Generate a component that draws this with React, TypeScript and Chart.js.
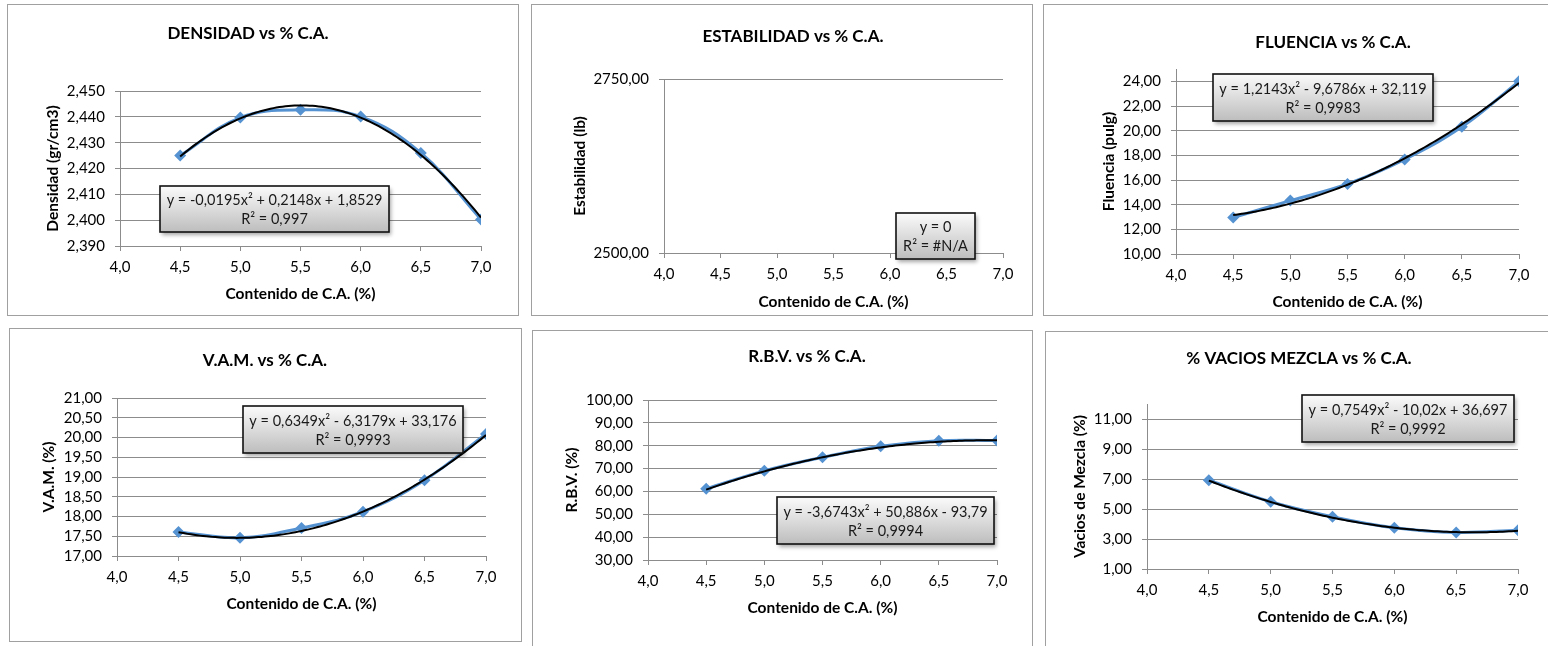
import React, { useEffect, useRef } from "react";
import { Chart, registerables } from "chart.js";

Chart.register(...registerables);

// ---------------- DATA ----------------
const contenidoCA = [4.5, 5.0, 5.5, 6.0, 6.5, 7.0];
const xTickValues = [4.0, 4.5, 5.0, 5.5, 6.0, 6.5, 7.0];

const densidad = [2.425, 2.4397, 2.4427, 2.4401, 2.426, 2.4003];
const estabilidad: number[] = [0, 0, 0, 0, 0, 0];
const fluencia = [12.96, 14.33, 15.68, 17.67, 20.31, 24.0];
const vam = [17.61, 17.46, 17.71, 18.12, 18.92, 20.09];
const rbv = [61.13, 69.0, 74.9, 79.8, 82.2, 82.3];
const vacios = [6.92, 5.48, 4.48, 3.75, 3.44, 3.59];

// polynomial trendline coefficients [a, b, c] for y = a x^2 + b x + c
const densidadTrend = [-0.0195, 0.2148, 1.8529];
const estabilidadTrend = [0, 0, 0];
const fluenciaTrend = [1.2143, -9.6786, 32.119];
const vamTrend = [0.6349, -6.3179, 33.176];
const rbvTrend = [-3.6743, 50.886, -93.79];
const vaciosTrend = [0.7549, -10.02, 36.697];

const densidadTicks = [2.39, 2.4, 2.41, 2.42, 2.43, 2.44, 2.45];
const estabilidadTicks = [2500, 2750];
const fluenciaTicks = [10, 12, 14, 16, 18, 20, 22, 24];
const vamTicks = [17, 17.5, 18, 18.5, 19, 19.5, 20, 20.5, 21];
const rbvTicks = [30, 40, 50, 60, 70, 80, 90, 100];
const vaciosTicks = [1, 3, 5, 7, 9, 11];

const densidadEq = ["y = -0,0195x² + 0,2148x + 1,8529", "R² = 0,997"];
const estabilidadEq = ["y = 0", "R² = #N/A"];
const fluenciaEq = ["y = 1,2143x² - 9,6786x + 32,119", "R² = 0,9983"];
const vamEq = ["y = 0,6349x² - 6,3179x + 33,176", "R² = 0,9993"];
const rbvEq = ["y = -3,6743x² + 50,886x - 93,79", "R² = 0,9994"];
const vaciosEq = ["y = 0,7549x² - 10,02x + 36,697", "R² = 0,9992"];

// ---------------- STYLE / LAYOUT ----------------
const FONT = "Lato, 'Open Sans', sans-serif";
const GRID = "#8C8C8C";
const BLUE = "#5592D1";

type Panel = {
  title: string;
  yLabel: string;
  xLabel: string;
  values: number[];
  trend: number[];
  yTicks: number[];
  yMin: number;
  yMax: number;
  dec: number;
  eq: string[];
  box: { l: number; t: number; r: number; b: number };
  plot: { x0: number; x1: number; yt: number; yb: number };
  titlePos: { x: number; y: number };
  yLabelX: number;
  xLabelY: number;
  eqBox: { l: number; t: number; r: number; b: number };
};

const panels: Panel[] = [
  {
    title: "DENSIDAD vs % C.A.", yLabel: "Densidad (gr/cm3)", xLabel: "Contenido de C.A. (%)",
    values: densidad, trend: densidadTrend, yTicks: densidadTicks, yMin: 2.39, yMax: 2.45, dec: 3, eq: densidadEq,
    box: { l: 7, t: 4, r: 519, b: 316 }, plot: { x0: 120, x1: 481, yt: 91, yb: 246 },
    titlePos: { x: 248, y: 34 }, yLabelX: 53, xLabelY: 294, eqBox: { l: 160, t: 186, r: 389, b: 232 },
  },
  {
    title: "ESTABILIDAD vs % C.A.", yLabel: "Estabilidad (lb)", xLabel: "Contenido de C.A. (%)",
    values: estabilidad, trend: estabilidadTrend, yTicks: estabilidadTicks, yMin: 2500, yMax: 2750, dec: 2, eq: estabilidadEq,
    box: { l: 531, t: 4, r: 1033, b: 316 }, plot: { x0: 664, x1: 1003, yt: 79, yb: 253 },
    titlePos: { x: 793, y: 37 }, yLabelX: 580, xLabelY: 302, eqBox: { l: 896, t: 213, r: 975, b: 259 },
  },
  {
    title: "FLUENCIA vs % C.A.", yLabel: "Fluencia (pulg)", xLabel: "Contenido de C.A. (%)",
    values: fluencia, trend: fluenciaTrend, yTicks: fluenciaTicks, yMin: 10, yMax: 25, dec: 2, eq: fluenciaEq,
    box: { l: 1043, t: 4, r: 1552, b: 316 }, plot: { x0: 1176, x1: 1519, yt: 69, yb: 254 },
    titlePos: { x: 1333, y: 43 }, yLabelX: 1109, xLabelY: 302, eqBox: { l: 1213, t: 74, r: 1433, b: 121 },
  },
  {
    title: "V.A.M. vs % C.A.", yLabel: "V.A.M. (%)", xLabel: "Contenido de C.A. (%)",
    values: vam, trend: vamTrend, yTicks: vamTicks, yMin: 17, yMax: 21, dec: 2, eq: vamEq,
    box: { l: 9, t: 328, r: 522, b: 642 }, plot: { x0: 117, x1: 486, yt: 398, yb: 556 },
    titlePos: { x: 265, y: 361 }, yLabelX: 49, xLabelY: 604, eqBox: { l: 243, t: 406, r: 463, b: 453 },
  },
  {
    title: "R.B.V. vs % C.A.", yLabel: "R.B.V. (%)", xLabel: "Contenido de C.A. (%)",
    values: rbv, trend: rbvTrend, yTicks: rbvTicks, yMin: 30, yMax: 100, dec: 2, eq: rbvEq,
    box: { l: 532, t: 330, r: 1033, b: 660 }, plot: { x0: 648, x1: 997, yt: 400, yb: 560 },
    titlePos: { x: 807, y: 357 }, yLabelX: 572, xLabelY: 608, eqBox: { l: 777, t: 497, r: 994, b: 544 },
  },
  {
    title: "% VACIOS MEZCLA vs % C.A.", yLabel: "Vacios de Mezcla (%)", xLabel: "Contenido de C.A. (%)",
    values: vacios, trend: vaciosTrend, yTicks: vaciosTicks, yMin: 1, yMax: 12, dec: 2, eq: vaciosEq,
    box: { l: 1045, t: 331, r: 1552, b: 660 }, plot: { x0: 1147, x1: 1518, yt: 404, yb: 569 },
    titlePos: { x: 1299, y: 359 }, yLabelX: 1080, xLabelY: 617, eqBox: { l: 1302, t: 395, r: 1514, b: 442 },
  },
];

const TICK_FONT = { family: FONT, size: 15 };
const AXIS_TITLE_FONT = { family: FONT, size: 15.5, weight: "bold" as const };
const TITLE_FONT = `bold 17px ${FONT}`;
const EQ_FONT = `14.5px ${FONT}`;

const comma = (v: number, d: number) => v.toFixed(d).replace(".", ",");

function trendData(c: number[]) {
  const pts: { x: number; y: number }[] = [];
  const x0 = contenidoCA[0];
  const x1 = contenidoCA[contenidoCA.length - 1];
  const n = 100;
  for (let i = 0; i <= n; i++) {
    const x = x0 + ((x1 - x0) * i) / n;
    pts.push({ x, y: c[0] * x * x + c[1] * x + c[2] });
  }
  return pts;
}

function PanelChart({ p }: { p: Panel }) {
  const ref = useRef<HTMLCanvasElement>(null);
  const W = p.box.r - p.box.l;
  const H = p.box.b - p.box.t;
  const cw = W - 2;
  const ch = H - 2;
  const ox = p.box.l + 1;
  const oy = p.box.t + 1;

  useEffect(() => {
    if (!ref.current) return;
    const yAxisW = p.plot.x0 - ox;
    const padTop = p.plot.yt - oy;
    const padRight = ox + cw - p.plot.x1;
    const xAxisH = oy + ch - p.plot.yb;
    const titleLH = AXIS_TITLE_FONT.size * 1.2;

    const overlay = {
      id: "overlay" + p.title,
      afterDraw(chart: any) {
        const ctx = chart.ctx as CanvasRenderingContext2D;
        ctx.save();
        // chart title
        ctx.font = TITLE_FONT;
        ctx.fillStyle = "#000";
        ctx.textAlign = "center";
        ctx.textBaseline = "middle";
        ctx.fillText(p.title, p.titlePos.x - ox, p.titlePos.y - oy);
        // equation box
        const l = p.eqBox.l - ox, t = p.eqBox.t - oy;
        const w = p.eqBox.r - p.eqBox.l, h = p.eqBox.b - p.eqBox.t;
        ctx.save();
        ctx.shadowColor = "rgba(0,0,0,0.35)";
        ctx.shadowBlur = 4;
        ctx.shadowOffsetX = 2;
        ctx.shadowOffsetY = 3;
        const g = ctx.createLinearGradient(0, t, 0, t + h);
        g.addColorStop(0, "#FBFBFB");
        g.addColorStop(1, "#BDBDBD");
        ctx.fillStyle = g;
        ctx.fillRect(l, t, w, h);
        ctx.restore();
        ctx.lineWidth = 1.6;
        ctx.strokeStyle = "#111";
        ctx.strokeRect(l, t, w, h);
        ctx.font = EQ_FONT;
        ctx.fillStyle = "#1a1a1a";
        const cx = l + w / 2;
        ctx.fillText(p.eq[0], cx, t + h * 0.32);
        ctx.fillText(p.eq[1], cx, t + h * 0.72);
        ctx.restore();
      },
    };

    const chart = new Chart(ref.current, {
      type: "scatter",
      data: {
        datasets: [
          {
            type: "line",
            label: "trend",
            data: trendData(p.trend),
            borderColor: "#000",
            borderWidth: 2,
            pointRadius: 0,
            tension: 0,
            fill: false,
          } as any,
          {
            type: "line",
            label: "data",
            data: contenidoCA.map((x, i) => ({ x, y: p.values[i] })).filter((d) => d.y !== undefined),
            borderColor: BLUE,
            backgroundColor: BLUE,
            borderWidth: 3,
            pointStyle: "rectRot",
            pointRadius: 6,
            pointBorderWidth: 0,
            pointBackgroundColor: BLUE,
            tension: 0.4,
            fill: false,
          } as any,
        ],
      },
      options: {
        responsive: false,
        animation: false,
        events: [],
        layout: { padding: { left: 0, top: padTop, right: padRight, bottom: 0 } },
        plugins: { legend: { display: false }, tooltip: { enabled: false }, title: { display: false } },
        scales: {
          x: {
            type: "linear",
            min: 4,
            max: 7,
            afterBuildTicks: (s: any) => {
              s.ticks = xTickValues.map((v) => ({ value: v }));
            },
            afterFit: (s: any) => {
              s.height = xAxisH;
            },
            ticks: {
              font: TICK_FONT,
              color: "#000",
              padding: 7,
              maxRotation: 0,
              autoSkip: false,
              callback: (v: any) => comma(Number(v), 1),
            },
            grid: { drawOnChartArea: false, drawTicks: true, tickLength: 5, color: GRID },
            border: { display: true, color: GRID, width: 1 },
            title: {
              display: true,
              text: p.xLabel,
              font: AXIS_TITLE_FONT,
              color: "#000",
              padding: { top: 0, bottom: oy + ch - p.xLabelY - titleLH / 2 },
            },
          },
          y: {
            type: "linear",
            min: p.yMin,
            max: p.yMax,
            afterBuildTicks: (s: any) => {
              s.ticks = p.yTicks.map((v) => ({ value: v }));
            },
            afterFit: (s: any) => {
              s.width = yAxisW;
            },
            ticks: {
              font: TICK_FONT,
              color: "#000",
              padding: 10,
              autoSkip: false,
              callback: (v: any) => comma(Number(v), p.dec),
            },
            grid: { drawOnChartArea: true, drawTicks: true, tickLength: 5, color: GRID },
            border: { display: true, color: GRID, width: 1 },
            title: {
              display: true,
              text: p.yLabel,
              font: AXIS_TITLE_FONT,
              color: "#000",
              padding: { top: p.yLabelX - ox - titleLH / 2, bottom: 0 },
            },
          },
        },
      },
      plugins: [overlay],
    } as any);
    return () => chart.destroy();
  }, []);

  return (
    <div
      style={{
        position: "absolute",
        left: p.box.l,
        top: p.box.t,
        width: W,
        height: H,
        border: "1px solid #A0A0A0",
        boxSizing: "border-box",
        background: "#fff",
      }}
    >
      <canvas ref={ref} width={cw} height={ch} style={{ display: "block", width: cw, height: ch }} />
    </div>
  );
}

export default function App() {
  return (
    <div
      style={{
        position: "absolute",
        left: 0,
        top: 0,
        width: 1548,
        height: 646,
        overflow: "hidden",
        background: "#fff",
      }}
    >
      {panels.map((p) => (
        <PanelChart key={p.title} p={p} />
      ))}
    </div>
  );
}
